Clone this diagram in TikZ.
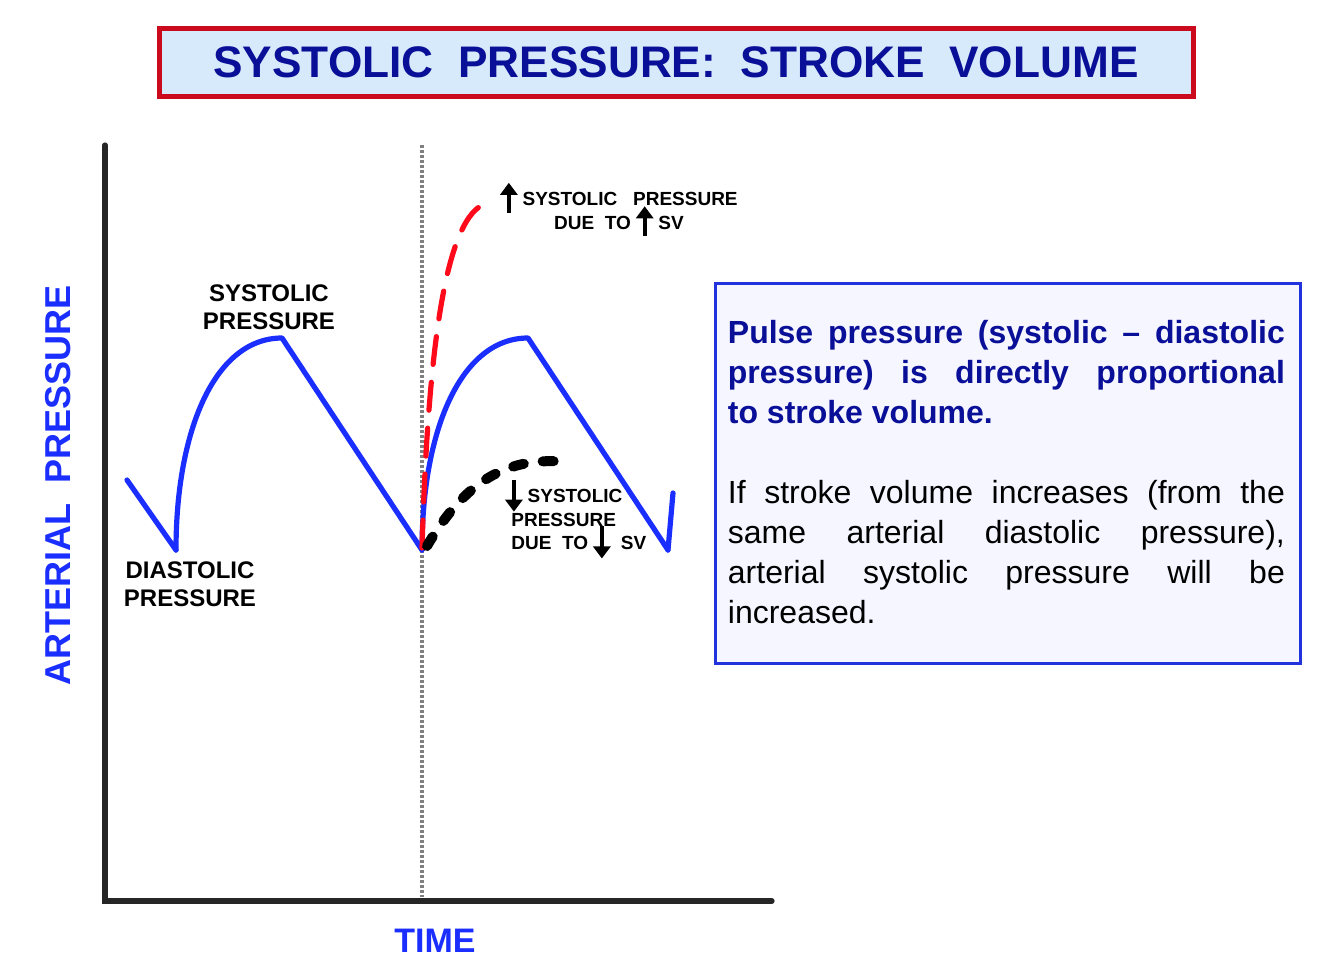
\documentclass[tikz,border=0pt]{standalone}
\usepackage{fontspec}
\setmainfont{Liberation Sans}
\usetikzlibrary{arrows.meta}

\definecolor{titlered}{HTML}{CC0A1E}
\definecolor{titlefill}{HTML}{D6EAFB}
\definecolor{navy}{HTML}{0A0F98}
\definecolor{curveblue}{HTML}{1A2EFF}
\definecolor{boxblue}{HTML}{2233DD}
\definecolor{boxfill}{HTML}{F5F6FF}
\definecolor{dashred}{HTML}{FF0A1A}

\newcommand{\uparw}{\smash{\tikz[baseline=0pt]\draw[black,line width=2pt,-{Triangle[length=6pt,width=8.5pt]}] (0,-3.5pt) -- (0,11.5pt);}}
\newcommand{\dnarw}{\smash{\tikz[baseline=0pt]\draw[black,line width=2pt,-{Triangle[length=6pt,width=8.5pt]}] (0,11.5pt) -- (0,-4.5pt);}}

\begin{document}
\begin{tikzpicture}[x=0.5pt,y=-0.5pt,
  pulse/.style={curveblue,line width=2.6pt,line cap=round,line join=round},
  lbl/.style={font=\bfseries\fontsize{12}{14}\selectfont,align=center,inner sep=0pt},
  small/.style={font=\bfseries\fontsize{9.5}{11.7}\selectfont,inner sep=0pt}]
\useasboundingbox (0,0) rectangle (1334,971);
\fill[white] (0,0) rectangle (1334,971);

\node[draw=titlered,line width=2.5pt,fill=titlefill,minimum width=517pt,minimum height=34pt,
  text=navy,font=\bfseries\fontsize{22.1}{26}\selectfont] (title) at (676,62) {SYSTOLIC~~PRESSURE:~~STROKE~~VOLUME};

\coordinate (o) at (105,901);
\coordinate (ytop) at (105,145);
\coordinate (xend) at (772,901);
\coordinate (tmark) at (422,145);
\coordinate (tbot) at (422,897);
\draw[black!85,line width=2.6pt,line cap=round] (ytop) -- (o) -- (xend);
\draw[gray,line width=1.6pt,dash pattern=on 1.5pt off 1pt] (tmark) -- (tbot);

\node[rotate=90,text=curveblue,font=\bfseries\fontsize{18}{20}\selectfont] (ylbl) at (58,485) {ARTERIAL~~PRESSURE};
\node[text=curveblue,font=\bfseries\fontsize{17}{19}\selectfont] (tlbl) at (435,941) {TIME};

\draw[pulse] (127,480) -- (176,550);
\foreach \s in {0,246} {
  \draw[pulse] ({176+\s},550) .. controls ({176+\s},430) and ({215+\s},338) .. ({282+\s},338) -- ({422+\s},550);
}
\draw[pulse] (668,550) -- (673,493);

\draw[dashred,line width=2.6pt,line cap=round,dash pattern=on 14pt off 9pt] (422,548) .. controls (428,350) and (445,215) .. (487,203);
\draw[black,line width=5pt,line cap=round,dash pattern=on 5.5pt off 9.5pt] (427,546) .. controls (460,490) and (500,455) .. (567,462);

\node[lbl] (syslbl) at (269,307) {SYSTOLIC\\PRESSURE};
\node[lbl] (dialbl) at (190,584) {DIASTOLIC\\PRESSURE};
\node[small,align=center] (upsv) at (619,211) {\uparw\ SYSTOLIC~~~PRESSURE\\DUE~~TO~\uparw~SV};
\node[small,align=left,anchor=north west] (dnsv) at (505,489) {\dnarw\ SYSTOLIC\\\hspace{3pt}PRESSURE\\\hspace{3pt}DUE~~TO~\dnarw~~SV};

\node[draw=boxblue,line width=1.5pt,fill=boxfill,minimum width=292.5pt,minimum height=190pt,inner sep=0pt] (infobox) at (1007.5,473) {};
\node[anchor=north west,inner sep=0pt,text width=278.5pt,align=justify,
  font=\fontsize{16}{20}\selectfont] (infotxt) at ([shift={(14,38)}]infobox.north west)
  {\parindent=0pt{\color{navy}\bfseries Pulse pressure (systolic -- diastolic\linebreak pressure) is directly proportional\linebreak to stroke volume.\par}
  \vspace{20pt}
  If stroke volume increases (from the\linebreak same arterial diastolic pressure),\linebreak arterial systolic pressure will be\linebreak increased.};
\end{tikzpicture}
\end{document}
